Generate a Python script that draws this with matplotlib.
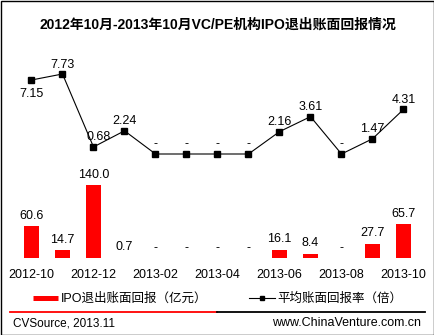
import matplotlib
matplotlib.use("Agg")
import matplotlib.pyplot as plt
from matplotlib.lines import Line2D
from matplotlib.patches import Rectangle

plt.rcParams['font.family'] = ['Liberation Sans', 'Noto Sans CJK SC', 'DejaVu Sans']

months = ['2012-10', '2012-11', '2012-12', '2013-01', '2013-02', '2013-03', '2013-04',
          '2013-05', '2013-06', '2013-07', '2013-08', '2013-09', '2013-10']
returns = [60.6, 14.7, 140.0, 0.7, 0, 0, 0, 0, 16.1, 8.4, 0, 27.7, 65.7]   # 亿元
multiple = [7.15, 7.73, 0.68, 2.24, 0, 0, 0, 0, 2.16, 3.61, 0, 1.47, 4.31]  # 倍
title = '2012年10月-2013年10月VC/PE机构IPO退出账面回报情况'
bar_name = 'IPO退出账面回报（亿元）'
line_name = '平均账面回报率（倍）'

W, H = 435, 335
fig = plt.figure(figsize=(W / 100, H / 100), dpi=100)

def px_axes(top, bottom):
    return fig.add_axes([0, 1 - bottom / H, 1, (bottom - top) / H])

x = list(range(len(months)))
xlim = (-31.5 / 31, (W - 31.5) / 31)

# line chart (top)
ax1 = px_axes(60, 160)
ax1.plot(x, multiple, color='black', lw=0.8, marker='s', ms=3.8)
ax1.set_xlim(*xlim)
ax1.set_ylim(-6 / 10.35, 94 / 10.35)
ax1.axis('off')
for i, v in enumerate(multiple):
    txt = '-' if v == 0 else '%.2f' % v
    if i == 0:
        ax1.annotate(txt, (i, v), xytext=(0, -6), textcoords='offset points',
                     ha='center', va='top', fontsize=9)
    else:
        ax1.annotate(txt, (i, v), xytext=(4 if i == 2 else 0, 2.5), textcoords='offset points',
                     ha='center', va='bottom', fontsize=9)

# bar chart (bottom)
ax2 = px_axes(170, 262)
ax2.bar(x, returns, width=0.48, color='#ff0000')
ax2.set_xlim(*xlim)
ax2.set_ylim(-4 / 0.5214, 88 / 0.5214)
for s in ax2.spines.values():
    s.set_visible(False)
ax2.set_yticks([])
ax2.set_xticks(x[::2])
ax2.set_xticklabels(months[::2], fontsize=9)
ax2.tick_params(axis='x', length=0, pad=5)
for i, v in enumerate(returns):
    txt = '-' if v == 0 else '%.1f' % v
    ax2.annotate(txt, (i, v), xytext=(0, 3), textcoords='offset points',
                 ha='center', va='bottom', fontsize=9)

fig.text(0.5, 1 - 25 / H, title, ha='center', va='center', fontsize=10, fontweight='bold')

handles = [Line2D([], [], color='#ff0000', lw=3.6, solid_capstyle='butt'),
           Line2D([], [], color='black', lw=0.8, marker='s', ms=3.5)]
fig.legend(handles, [bar_name, line_name], loc='center', bbox_to_anchor=(0.5, 1 - 299 / H),
           ncol=2, frameon=False, fontsize=9, handlelength=2.0, handletextpad=0.2,
           columnspacing=3.4)

fig.add_artist(Line2D([10 / W, 217 / W], [1 - 312 / H] * 2, color='#ff0000', lw=1.3))
fig.add_artist(Line2D([217 / W, 425 / W], [1 - 312 / H] * 2, color='black', lw=1.3))
fig.text(13 / W, 1 - 323 / H, 'CVSource, 2013.11', ha='left', va='center', fontsize=8.5)
fig.text(421 / W, 1 - 323 / H, 'www.ChinaVenture.com.cn', ha='right', va='center', fontsize=9)
fig.add_artist(Rectangle((0.5 / W, 0.5 / H), 1 - 1.5 / W, 1 - 1.5 / H, transform=fig.transFigure,
                         fill=False, edgecolor='black', lw=1.0))

fig.savefig('out.png', dpi=100)
